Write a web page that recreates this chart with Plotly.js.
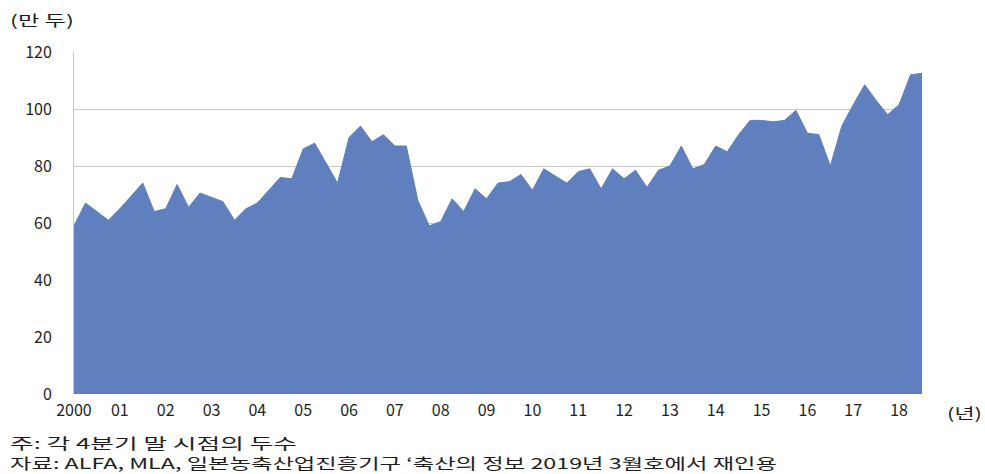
<!DOCTYPE html>
<html>
<head>
<meta charset="utf-8">
<script src="https://cdn.plot.ly/plotly-3.0.1.min.js"></script>
<style>
  html, body { margin: 0; padding: 0; background: #ffffff; }
  #chart { width: 985px; height: 474px; }
</style>
</head>
<body>
<div id="chart"></div>
<script>
// Quarterly head count (10,000 head), 2000 Q1 onward
const quarterIndex = Array.from({length: 75}, (_, i) => i);
const headCount = [
  59, 67, 64, 61,      // 2000
  65, 69.5, 74, 64,    // 2001
  65, 73.5, 65.5, 70.5,// 2002
  69, 67.5, 61, 65,    // 2003
  67, 71.5, 76, 75.5,  // 2004
  86, 88, 81, 74,      // 2005
  90, 94, 88.5, 91,    // 2006
  87, 87, 68, 59,      // 2007
  60.5, 68.5, 64, 72,  // 2008
  68.5, 74, 74.5, 77,  // 2009
  71.5, 79, 76.5, 74,  // 2010
  78, 79, 72, 79,      // 2011
  75.5, 78.5, 72.5, 78.5, // 2012
  80, 87, 79, 80.5,    // 2013
  87, 85, 91, 96,      // 2014
  96, 95.5, 96, 99.5,  // 2015
  91.5, 91, 80, 94,    // 2016
  101.5, 108.5, 103, 98, // 2017
  101.5, 112, 112.5    // 2018
];

// Year labels placed at the first quarter of each year
const yearTickPos = [0, 4, 8, 12, 16, 20, 24, 28, 32, 36, 40, 44, 48, 52, 56, 60, 64, 68, 72];
const yearTickText = ['2000', '01', '02', '03', '04', '05', '06', '07', '08', '09',
                      '10', '11', '12', '13', '14', '15', '16', '17', '18'];

const yTicks = [0, 20, 40, 60, 80, 100, 120];

const unitLabel = '(만 두)';
const yearUnitLabel = '(년)';
const noteText = '주: 각 4분기 말 시점의 두수';
const sourceText = '자료: ALFA, MLA, 일본농축산업진흥기구 ‘축산의 정보 2019년 3월호에서 재인용';

const fontFamily = '"Noto Sans CJK KR", "Noto Sans", sans-serif';
const textColor = '#1e1e1e';
const fillBlue = '#607fbe';

const trace = {
  x: quarterIndex,
  y: headCount,
  type: 'scatter',
  mode: 'lines',
  fill: 'tozeroy',
  fillcolor: fillBlue,
  line: { color: fillBlue, width: 1 },
  hoverinfo: 'x+y'
};

// Wide-set label text: each entry gets a fixed rendered width in px
const labelWidths = [64, 35, 287, 767];

function label(text, x, y) {
  return {
    text: text, xref: 'paper', yref: 'paper',
    x: x, y: y, xanchor: 'left', yanchor: 'middle', align: 'left',
    showarrow: false, font: { family: fontFamily, size: 15, color: textColor }
  };
}

const layout = {
  width: 985,
  height: 474,
  margin: { l: 74, r: 63, t: 52, b: 80 },
  paper_bgcolor: '#ffffff',
  plot_bgcolor: '#ffffff',
  showlegend: false,
  font: { family: fontFamily, color: textColor, size: 16 },
  xaxis: {
    range: [0, 74],
    tickmode: 'array',
    tickvals: yearTickPos,
    ticktext: yearTickText,
    showgrid: false,
    zeroline: false,
    showline: false,
    ticks: '',
    ticklabelstandoff: 5,
    tickfont: { family: fontFamily, size: 16, color: textColor },
    fixedrange: true
  },
  yaxis: {
    range: [0, 120],
    tickmode: 'array',
    tickvals: yTicks,
    showgrid: true,
    gridcolor: '#c8c8c8',
    gridwidth: 1,
    zeroline: false,
    showline: true,
    linecolor: '#c8c8c8',
    linewidth: 1,
    ticks: '',
    ticklabelstandoff: 18,
    tickfont: { family: fontFamily, size: 16, color: textColor },
    fixedrange: true
  },
  annotations: [
    label(unitLabel, -0.078, 1.096),
    label(yearUnitLabel, 1.027, -0.053),
    label(noteText, -0.078, -0.143),
    label(sourceText, -0.078, -0.199)
  ]
};

Plotly.newPlot('chart', [trace], layout, { displayModeBar: false, staticPlot: true })
  .then(function (gd) {
    const texts = gd.querySelectorAll('.annotation-text');
    texts.forEach(function (el, i) {
      el.setAttribute('textLength', labelWidths[i]);
      el.setAttribute('lengthAdjust', 'spacingAndGlyphs');
    });
  });
</script>
</body>
</html>
